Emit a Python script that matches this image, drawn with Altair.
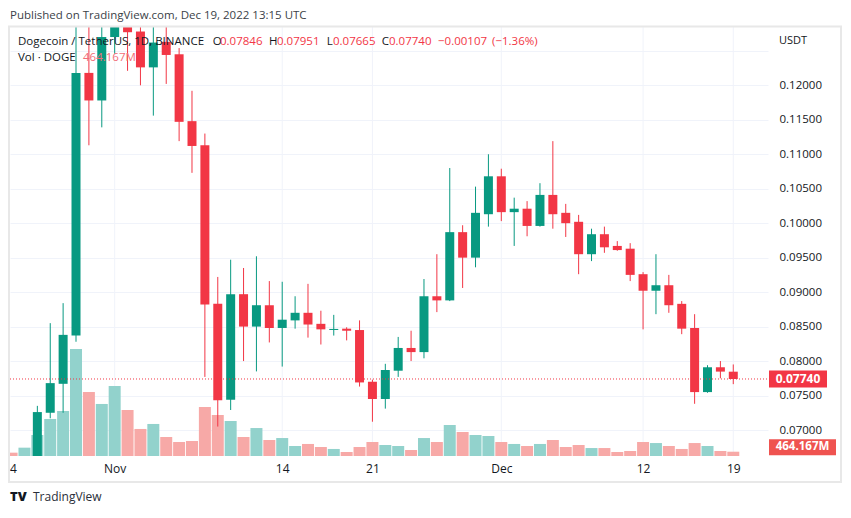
import altair as alt
import pandas as pd
import numpy as np

# ---------------- data ----------------
dates = pd.date_range("2022-10-24", "2022-12-19", freq="D")

opens = [0.0605, 0.0597, 0.0637, 0.0725, 0.0767, 0.0837, 0.1218, 0.1178, 0.1270, 0.1335,
         0.1278, 0.1226, 0.1263, 0.1245, 0.1148, 0.1113, 0.0883, 0.0744, 0.0897, 0.0850,
         0.0881, 0.0848, 0.0859, 0.0870, 0.0854, 0.08451, 0.0847, 0.0845, 0.0770, 0.0745,
         0.0786, 0.0819, 0.0813, 0.0894, 0.0888, 0.0987, 0.0950, 0.1013, 0.1068, 0.1016,
         0.1021, 0.0996, 0.1041, 0.1015, 0.1002, 0.0955, 0.0984, 0.0967, 0.0963, 0.0926,
         0.0902, 0.0910, 0.0883, 0.0848, 0.0755, 0.0791, 0.07846]
highs = [0.0612, 0.0640, 0.0735, 0.0855, 0.0884, 0.1465, 0.1370, 0.1330, 0.1570, 0.1390,
         0.1310, 0.1300, 0.1305, 0.1254, 0.1192, 0.1130, 0.0922, 0.0947, 0.0935, 0.0952,
         0.0916, 0.0915, 0.0894, 0.0912, 0.0873, 0.0867, 0.0849, 0.0859, 0.0773, 0.0796,
         0.0835, 0.0844, 0.0919, 0.0955, 0.1080, 0.0997, 0.1053, 0.1100, 0.1079, 0.1037,
         0.1032, 0.1058, 0.1119, 0.1028, 0.1012, 0.0992, 0.0995, 0.0974, 0.0971, 0.0929,
         0.0955, 0.0925, 0.0887, 0.0868, 0.0794, 0.0800, 0.07951]
lows = [0.0590, 0.0594, 0.0630, 0.0717, 0.0725, 0.0828, 0.1113, 0.1139, 0.1246, 0.1221,
        0.1200, 0.1156, 0.1202, 0.1119, 0.1073, 0.0777, 0.0705, 0.0729, 0.0800, 0.0785,
        0.0827, 0.0792, 0.0847, 0.0834, 0.0824, 0.0837, 0.0830, 0.0763, 0.0712, 0.0731,
        0.0777, 0.0800, 0.0804, 0.0871, 0.0887, 0.0906, 0.0936, 0.0995, 0.1003, 0.0967,
        0.0981, 0.0995, 0.0992, 0.0980, 0.0926, 0.0945, 0.0957, 0.0960, 0.0916, 0.0846,
        0.0868, 0.0870, 0.0839, 0.0738, 0.0754, 0.0775, 0.07665]
closes = [0.0597, 0.0637, 0.0726, 0.0768, 0.0838, 0.1218, 0.1178, 0.1270, 0.1335, 0.1277,
          0.1226, 0.1262, 0.1244, 0.1147, 0.1112, 0.0882, 0.0743, 0.0897, 0.0850, 0.0881,
          0.0848, 0.0860, 0.0870, 0.0853, 0.0846, 0.08466, 0.0844, 0.0769, 0.0745, 0.0787,
          0.0819, 0.0813, 0.0894, 0.0888, 0.0987, 0.0950, 0.1015, 0.1068, 0.1016, 0.1021,
          0.0996, 0.1041, 0.1013, 0.1000, 0.0955, 0.0984, 0.0965, 0.0961, 0.0925, 0.0902,
          0.0910, 0.0881, 0.0847, 0.0755, 0.0791, 0.07847, 0.07740]
volumes = [360, 900, 2270, 4000, 4860, 11560, 6910, 5620, 7560, 4970,
           2920, 3460, 2050, 1510, 1620, 5290, 4430, 3780, 2050, 3020,
           1730, 1940, 1080, 1300, 970, 760, 430, 970, 1510, 1190,
           1080, 650, 1940, 1510, 3350, 2590, 2270, 2160, 1510, 1300,
           1080, 1300, 1730, 970, 1190, 860, 860, 430, 540, 1510,
           1400, 1080, 760, 1400, 1080, 540, 464.167]  # millions of DOGE

tick_days = [0.1, 8, 21, 28, 38, 49, 56]
tick_labels = ["4", "Nov", "14", "21", "Dec", "12", "19"]
grid_days = [8, 21, 28, 38, 49, 56]
price_ticks = [round(0.07 + 0.005 * i, 3) for i in range(12)]

symbol_text = "Dogecoin / TetherUS, 1D, BINANCE"
published_text = "Published on TradingView.com, Dec 19, 2022 13:15 UTC"

# ---------------- frames ----------------
df = pd.DataFrame({
    "day": np.arange(len(dates)),
    "date": dates.strftime("%Y-%m-%d"),
    "open": opens, "high": highs, "low": lows, "close": closes, "volume": volumes,
})
df["dir"] = np.where(df["close"] >= df["open"], "up", "down")
df["vdir"] = np.where(df["close"] >= df["open"], "vup", "vdown")
last = df.iloc[[-1]].copy()
last["vlabel"] = last["volume"].map(lambda v: f"{v:.3f}M")
grid_df = pd.DataFrame({"day": grid_days})

chg = closes[-1] - closes[-2]
pct = chg / closes[-2] * 100

FONT = "Open Sans"
DARK = "#131722"
RED = "#f23645"
GREEN = "#089981"
GRID = "#f0f3fa"

W, H = 758, 429
x_scale = alt.Scale(domain=[0.266, 58.306], nice=False, zero=False)
p_scale = alt.Scale(domain=[0.066229, 0.128456], nice=False, zero=False)
v_scale = alt.Scale(domain=[0, 46332], nice=False, zero=True)

lab_expr = " : ".join(
    [f"datum.value == {d} ? '{l}'" for d, l in zip(tick_days, tick_labels)]) + " : ''"
x_axis = alt.Axis(values=tick_days, labelExpr=lab_expr, grid=False, ticks=False, domain=False,
                  labelPadding=7, labelFlush=False, labelOverlap=False, labelFontSize=12,
                  labelColor=DARK, labelFont=FONT, title=None)
y_axis = alt.Axis(orient="right", values=price_ticks,
                  labelExpr="datum.value > 0.1245 ? '' : format(datum.value, '.5f')",
                  grid=True, gridColor=GRID, gridWidth=1, ticks=False, domain=False,
                  labelPadding=11, labelFontSize=11.5, labelColor=DARK, labelFont=FONT,
                  labelFlush=False, labelOverlap=False, title=None)

X = alt.X("day:Q", scale=x_scale, axis=x_axis)
candle_color = alt.Color("dir:N", scale=alt.Scale(domain=["up", "down"], range=[GREEN, RED]), legend=None)
vol_color = alt.Color("vdir:N", scale=alt.Scale(domain=["vup", "vdown"], range=["#92d2cc", "#f7a9a7"]), legend=None)

vgrid = alt.Chart(grid_df).mark_rule(color=GRID, strokeWidth=1).encode(x=X)

vol_bars = alt.Chart(df).mark_bar(size=12, clip=True).encode(
    x=X, y=alt.Y("volume:Q", scale=v_scale, axis=None), color=vol_color)
vol_box = alt.Chart(last).mark_rule(color="#ef5350", strokeWidth=16, yOffset=-4.5).encode(
    y=alt.Y("volume:Q", scale=v_scale, axis=None), x=alt.value(759), x2=alt.value(826))
vol_txt = alt.Chart(last).mark_text(color="white", font=FONT, fontSize=11.5, fontWeight="bold",
                                     align="center", baseline="middle", yOffset=-4.5).encode(
    y=alt.Y("volume:Q", scale=v_scale, axis=None), x=alt.value(792.5), text="vlabel:N")
vol_layer = alt.layer(vol_bars, vol_box, vol_txt)

wicks = alt.Chart(df).mark_rule(strokeWidth=1, clip=True).encode(
    x=X, y=alt.Y("low:Q", scale=p_scale, axis=y_axis), y2="high:Q", color=candle_color)
bodies = alt.Chart(df).mark_bar(size=9, clip=True).encode(
    x=X, y=alt.Y("open:Q", scale=p_scale, axis=y_axis), y2="close:Q", color=candle_color)
pline = alt.Chart(last).mark_rule(color=RED, strokeWidth=1, strokeDash=[1, 2]).encode(
    y=alt.Y("close:Q", scale=p_scale, axis=y_axis), x=alt.value(0), x2=alt.value(W))
pbox = alt.Chart(last).mark_rule(color=RED, strokeWidth=17).encode(
    y=alt.Y("close:Q", scale=p_scale, axis=y_axis), x=alt.value(759), x2=alt.value(817))
ptxt = alt.Chart(last).mark_text(color="white", font=FONT, fontSize=12, fontWeight="bold",
                                  align="center", baseline="middle").encode(
    y=alt.Y("close:Q", scale=p_scale, axis=y_axis), x=alt.value(788),
    text=alt.Text("close:Q", format=".5f"))
price_layer = alt.layer(wicks, bodies, pline, pbox, ptxt)

one = alt.Data(values=[{}])


def txt(s, x, y, color=DARK, size=11.5, weight="normal"):
    return alt.Chart(one).mark_text(text=s, font=FONT, fontSize=size, fontWeight=weight, color=color,
                                     align="left", baseline="middle").encode(
        x=alt.value(x), y=alt.value(y))


texts = [
    txt(published_text, 0, -11, color="#3b3f48", size=11.5),
    txt(symbol_text, 8, 15),
    txt("O", 202.7, 15), txt(f"{opens[-1]:.5f}", 210, 15, RED),
    txt("H", 259, 15), txt(f"{highs[-1]:.5f}", 267, 15, RED),
    txt("L", 316.7, 15), txt(f"{lows[-1]:.5f}", 323, 15, RED),
    txt("C", 371.7, 15), txt(f"{closes[-1]:.5f}", 379, 15, RED),
    txt(f"{chg:+.5f}".replace("-", "\u2212"), 428, 15, RED),
    txt(f"({pct:+.2f}%)".replace("-", "\u2212"), 482, 15, RED),
    txt("Vol \u00b7 DOGE", 8, 31),
    txt(f"{volumes[-1]:.3f}M", 73, 31, "#f26d78"),
    txt("USDT", 769, 14, size=11),
    txt("TV", 0, 470, color=DARK, size=13, weight=900),
    txt("TradingView", 23, 470, color="#2a2e39", size=12),
]

frame = alt.Chart(one).mark_rect(fill="transparent", stroke="#e8e8e8", strokeWidth=2).encode(
    x=alt.value(-1), x2=alt.value(831), y=alt.value(-0.5), y2=alt.value(455))

chart = alt.layer(vgrid, vol_layer, price_layer, *texts, frame).resolve_scale(
    y="independent", color="independent"
).properties(
    width=W, height=H,
    autosize=alt.AutoSizeParams(type="none"),
    padding={"left": 2, "top": 19, "right": 75, "bottom": 50},
).configure_view(stroke=None)

chart.save("out.html", embed_options={"renderer": "svg", "actions": False})
